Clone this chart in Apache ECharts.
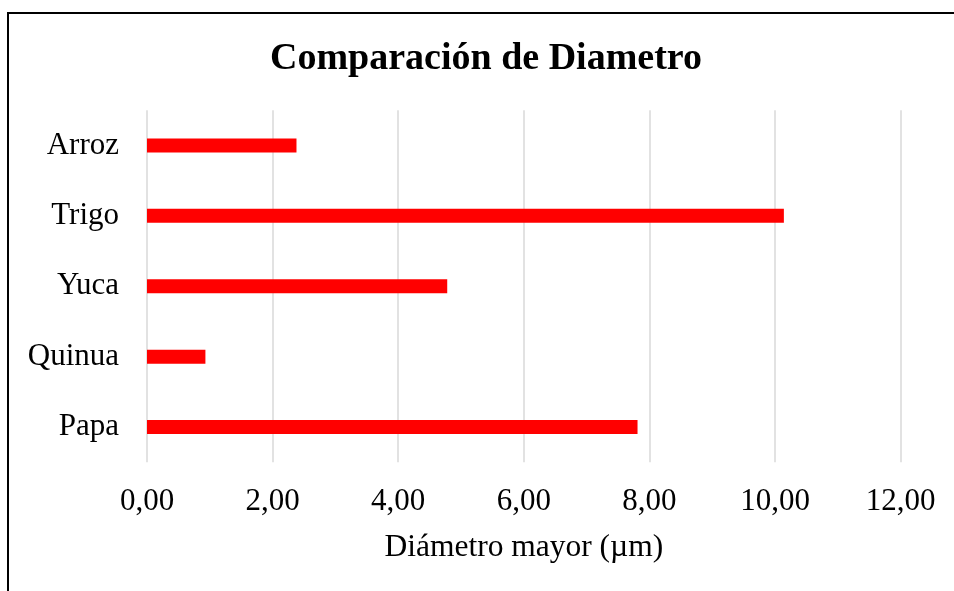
<!DOCTYPE html>
<html>
<head>
<meta charset="utf-8">
<script src="https://cdn.jsdelivr.net/npm/echarts@6/dist/echarts.min.js"></script>
<style>
html,body{margin:0;padding:0;background:#fff;}
#chart{width:954px;height:591px;}
</style>
</head>
<body>
<div id="chart"></div>
<script>
const titleText = 'Comparación de Diametro';
const categories = ['Arroz', 'Trigo', 'Yuca', 'Quinua', 'Papa'];
const diameters = [2.38, 10.14, 4.78, 0.93, 7.81];
const xAxisName = 'Diámetro mayor (µm)';

const chart = echarts.init(document.getElementById('chart'), null, {renderer: 'canvas'});
const FONT = '"Liberation Serif", "Times New Roman", serif';
chart.setOption({
  animation: false,
  backgroundColor: '#ffffff',
  title: {
    text: titleText,
    left: 270,
    top: 40,
    padding: 0,
    textStyle: {fontFamily: FONT, fontSize: 38, fontWeight: 'bold', color: '#000'}
  },
  graphic: [{
    type: 'rect',
    shape: {x: 8, y: 13, width: 1000, height: 1000},
    style: {fill: 'none', stroke: '#000', lineWidth: 2},
    silent: true
  }],
  grid: {left: 147, right: 53.3, top: 110.3, bottom: 128.8, containLabel: false},
  xAxis: {
    type: 'value',
    min: 0, max: 12, interval: 2,
    name: xAxisName,
    nameLocation: 'middle',
    nameGap: 70,
    nameTextStyle: {fontFamily: FONT, fontSize: 31.5, color: '#000'},
    axisLine: {show: false},
    axisTick: {show: false},
    axisLabel: {
      fontFamily: FONT, fontSize: 31, color: '#000', margin: 24,
      formatter: v => v.toFixed(2).replace('.', ',')
    },
    splitLine: {show: true, lineStyle: {color: '#d9d9d9', width: 1.5}}
  },
  yAxis: {
    type: 'category',
    data: categories,
    inverse: true,
    axisLine: {show: false},
    axisTick: {show: false},
    axisLabel: {fontFamily: FONT, fontSize: 31, color: '#000', margin: 28}
  },
  series: [{
    type: 'bar',
    data: diameters,
    barWidth: 14,
    itemStyle: {color: '#ff0000'}
  }]
});
</script>
</body>
</html>
